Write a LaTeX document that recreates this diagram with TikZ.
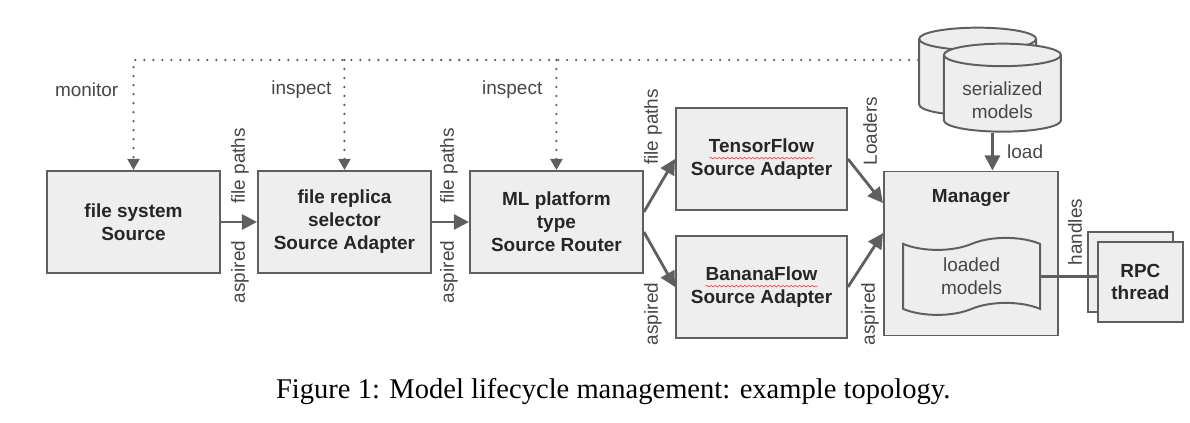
\documentclass[tikz,border=0pt]{standalone}
\usepackage{fontspec}
\setmainfont{Liberation Serif}
\setsansfont{Liberation Sans}
\usepackage{tikz}
\usetikzlibrary{arrows.meta, positioning, calc, shapes.geometric, shapes.symbols, decorations.pathmorphing}
\definecolor{boxfill}{RGB}{238, 238, 238}
\definecolor{linegray}{RGB}{95, 95, 95}
\definecolor{textgray}{RGB}{70, 70, 70}

\begin{document}
\begin{tikzpicture}[
    font=\sffamily\fontsize{13.5}{16.3}\selectfont,
    stage/.style={draw=linegray, line width=1.4pt, fill=boxfill, minimum width=4.325cm, minimum height=2.55cm, align=center, text=black!85, font=\sffamily\bfseries\fontsize{13.5}{16.3}\selectfont},
    store/.style={cylinder, shape border rotate=90, aspect=2.4, draw=linegray, line width=1.4pt, fill=boxfill, minimum width=2.925cm, minimum height=2.2cm},
    arrow/.style={-{Triangle[length=0.38cm, width=0.38cm]}, line width=2pt, draw=linegray},
    dotarrow/.style={-{Triangle[length=0.28cm, width=0.3cm]}, line width=1.8pt, draw=linegray, dash pattern=on 0pt off 6.4pt, line cap=round},
    label/.style={text=textgray, inner sep=1pt},
    squiggle/.style={draw=red!70, line width=0.5pt, decorate, decoration={snake, amplitude=0.6pt, segment length=3pt}}
]
    \useasboundingbox (0,0) rectangle (29.75,-10.575);

    % Pipeline of sources and adapters
    \node[stage] (fs) at (3.3375,-5.55) {file system\\Source};
    \node[stage, right=0.9cm of fs] (sel) {file replica\\selector\\Source Adapter};
    \node[stage, right=0.925cm of sel] (router) {ML platform\\type\\Source Router};
    \node[stage, minimum width=4.275cm] (tf) at (19.0375,-3.975) {TensorFlow\\Source Adapter};
    \node[stage, minimum width=4.275cm, below=0.6cm of tf] (bf) {BananaFlow\\Source Adapter};

    % Manager and what it holds
    \node[stage, minimum width=4.35cm, minimum height=4.1cm] (mgr) at (24.275,-6.3375) {};
    \node[font=\sffamily\bfseries\fontsize{13.5}{16.3}\selectfont, text=black!85] (mgrname) at ([yshift=-0.675cm]mgr.north) {Manager};
    \node[tape, draw=linegray, line width=1.4pt, fill=boxfill, minimum width=3.425cm, minimum height=1.925cm, tape bend height=0.3cm, align=center, text=textgray] (loaded) at (24.29,-6.91) {loaded\\models};

    % Model storage
    \node[store] (store2) at (24.44,-2.0) {};
    \node[store] (store) at (25.06,-2.4) {};
    \node[label, align=center] (storename) at (25.06,-2.5) {serialized\\models};

    % RPC threads
    \node[draw=linegray, line width=1.4pt, fill=boxfill, minimum width=2.125cm, minimum height=2cm] (rpc2) at (28.26,-6.8) {};
    \node[draw=linegray, line width=1.4pt, fill=boxfill, minimum width=2.125cm, minimum height=2cm, align=center, text=black!85, font=\sffamily\bfseries\fontsize{13.5}{16.3}\selectfont] (rpc) at (28.51,-7.05) {RPC\\thread};

    % Spell-check marks
    \draw[squiggle] ([xshift=-1.3cm, yshift=0.02cm]tf.center) -- ([xshift=1.3cm, yshift=0.02cm]tf.center);
    \draw[squiggle] ([xshift=-1.4cm, yshift=0.02cm]bf.center) -- ([xshift=1.4cm, yshift=0.02cm]bf.center);

    % Data flow
    \draw[arrow] (fs) -- (sel);
    \draw[arrow] (sel) -- (router);
    \draw[arrow] ([yshift=0.25cm]router.east) -- (tf.west);
    \draw[arrow] ([yshift=-0.25cm]router.east) -- (bf.west);
    \draw[arrow] (tf.east) -- ([yshift=1.26cm]mgr.west);
    \draw[arrow] (bf.east) -- ([yshift=0.51cm]mgr.west);
    \draw[arrow] ([xshift=-0.25cm]store.south) -- ([xshift=-0.25cm]store.south |- mgr.north) node[label, midway, right=0.3cm] {load};
    \draw[line width=2pt, draw=linegray] (loaded.east) -- (loaded.east -| rpc.west);

    % Rotated connector labels
    \node[label, rotate=90] (fp1) at (6.0,-4.15) {file paths};
    \node[label, rotate=90] (as1) at (6.0,-6.8) {aspired};
    \node[label, rotate=90] (fp2) at (11.225,-4.15) {file paths};
    \node[label, rotate=90] (as2) at (11.225,-6.8) {aspired};
    \node[label, rotate=90] (fp3) at (16.325,-3.175) {file paths};
    \node[label, rotate=90] (as3) at (16.325,-7.85) {aspired};
    \node[label, rotate=90] (ld) at (21.75,-3.275) {Loaders};
    \node[label, rotate=90] (as4) at (21.75,-7.85) {aspired};
    \node[label, rotate=90] (hd) at (26.875,-5.8) {handles};

    % Monitoring
    \coordinate (bus) at (0,-1.5);
    \draw[dotarrow] (bus -| store2.west) -| (fs.north);
    \draw[dotarrow] (bus -| sel.north) -- (sel.north);
    \draw[dotarrow] (bus -| router.north) -- (router.north);
    \node[label, anchor=east] (mon) at (3.0,-2.25) {monitor};
    \node[label, anchor=east] (insp1) at (8.33,-2.25) {inspect};
    \node[label, anchor=east] (insp2) at (13.6,-2.25) {inspect};

    % Caption
    \node[font=\rmfamily\fontsize{20.3}{23}\selectfont] (caption) at (15.33,-9.8) {Figure 1: Model lifecycle management: example topology.};
\end{tikzpicture}
\end{document}
